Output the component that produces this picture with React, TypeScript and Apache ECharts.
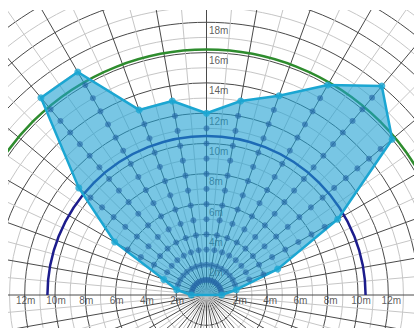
import React, { useEffect, useRef } from 'react';
import * as echarts from 'echarts';

// spokes every 10 degrees (0 = straight up, negative = left)
const spokeAngles = [-90, -80, -70, -60, -50, -40, -30, -20, -10, 0, 10, 20, 30, 40, 50, 60, 70, 80, 90];
// reach of the outline on each spoke, metres
const reachRadii = [1, 2, 3, 7, 11, 17, 17, 13, 13, 12, 13, 14, 16, 18, 16, 10, 5, 2, 1];
// number of measurement points inside the outline on each spoke (at 1 m steps)
const innerDotCounts = [0, 1, 2, 6, 10, 16, 16, 12, 12, 11, 12, 13, 15, 17, 15, 9, 4, 1, 0];
const verticalTicks = [2, 4, 6, 8, 10, 12, 14, 16, 18];
const horizontalTicks = [2, 4, 6, 8, 10, 12];
const navyArcRadius = 10.5;
const greenArcRadius = 16.2;

const PX_PER_M = 15.15;
const R_MAX = 30;

export default function App() {
  const ref = useRef<HTMLDivElement>(null);
  useEffect(() => {
    if (!ref.current) return;
    const chart = echarts.init(ref.current, undefined, { renderer: 'svg' });

    const polyData = spokeAngles.map((a, i) => [reachRadii[i], a]);
    const dots: number[][] = [];
    spokeAngles.forEach((a, i) => {
      for (let k = 1; k <= innerDotCounts[i]; k++) dots.push([k, a]);
    });

    const labelData: any[] = [];
    verticalTicks.forEach((v) => {
      labelData.push({
        value: [v, 0],
        label: { show: true, formatter: v + 'm', position: 'right', distance: 2, offset: [0, 8] },
      });
    });
    horizontalTicks.forEach((v) => {
      labelData.push({
        value: [v, -90],
        label: { show: true, formatter: v + 'm', position: 'bottom', distance: 0, offset: [1, 0] },
      });
      labelData.push({
        value: [v, 90],
        label: { show: true, formatter: v + 'm', position: 'bottom', distance: 0, offset: [3, 0] },
      });
    });

    const arcColors = ['#1c1c8c', '#2e8c2e'];

    chart.setOption({
      animation: false,
      polar: { center: [198.5, 285], radius: R_MAX * PX_PER_M },
      angleAxis: {
        type: 'value',
        min: -180,
        max: 180,
        interval: 5,
        startAngle: 270,
        clockwise: true,
        axisLine: { show: false },
        axisTick: { show: false },
        axisLabel: { show: false },
        splitLine: { show: true, lineStyle: { color: ['#4a4a4a', '#c6c6c6'], width: 1 } },
      },
      radiusAxis: {
        type: 'value',
        min: 0,
        max: R_MAX,
        interval: 1,
        axisLine: { show: false },
        axisTick: { show: false },
        axisLabel: { show: false },
        splitLine: { show: true, lineStyle: { color: ['#4a4a4a', '#c6c6c6'], width: 1 } },
      },
      series: [
        {
          type: 'scatter',
          coordinateSystem: 'polar',
          z: 1,
          silent: true,
          symbolSize: 1,
          itemStyle: { color: 'transparent' },
          label: { show: true, color: '#333', fontSize: 10, fontFamily: 'Liberation Sans, Arial, sans-serif' },
          data: labelData,
        },
        {
          type: 'custom',
          coordinateSystem: 'polar',
          z: 2,
          silent: true,
          data: [[navyArcRadius, 0], [greenArcRadius, 0]],
          renderItem: (params: any, api: any) => {
            const c = api.coord([0, 0]);
            const p = api.coord([api.value(0), 0]);
            const r = Math.hypot(p[0] - c[0], p[1] - c[1]);
            return {
              type: 'arc',
              shape: { cx: c[0], cy: c[1], r, startAngle: Math.PI, endAngle: 2 * Math.PI, clockwise: true },
              style: { stroke: arcColors[params.dataIndex], lineWidth: 2.5, fill: null },
            };
          },
        },
        {
          type: 'custom',
          coordinateSystem: 'polar',
          z: 3,
          silent: true,
          data: polyData,
          renderItem: (params: any, api: any) => {
            if (params.dataIndex !== 0) return null;
            const pts = polyData.map((d) => api.coord(d));
            return {
              type: 'polygon',
              shape: { points: pts },
              style: { fill: 'rgba(30,160,210,0.6)', stroke: '#1ba6d2', lineWidth: 2.5, lineJoin: 'round' },
            };
          },
        },
        {
          type: 'scatter',
          coordinateSystem: 'polar',
          z: 4,
          silent: true,
          symbolSize: 6,
          itemStyle: { color: 'rgba(35,100,165,0.75)' },
          data: dots,
        },
        {
          type: 'scatter',
          coordinateSystem: 'polar',
          z: 5,
          silent: true,
          symbolSize: 7,
          itemStyle: { color: '#1ba6d2' },
          data: polyData,
        },
      ],
    });
    return () => chart.dispose();
  }, []);
  return (
    <div
      ref={ref}
      style={{ position: 'absolute', left: 8, top: 10, width: 406, height: 318 }}
    />
  );
}
